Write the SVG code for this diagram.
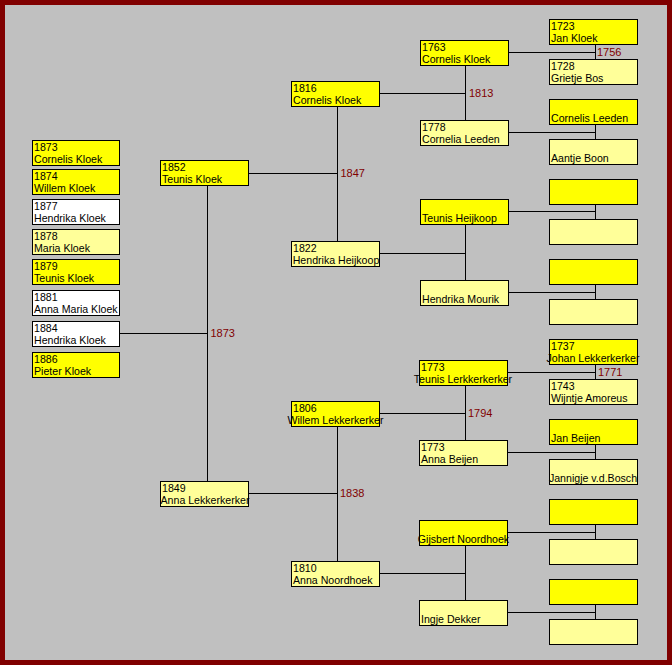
<svg xmlns="http://www.w3.org/2000/svg" width="672" height="665" viewBox="0 0 672 665">
<style>
.b{stroke:#000;stroke-width:1}
.y{fill:#FFFF00}
.p{fill:#FFFF99}
.w{fill:#FFFFFF}
text{font-family:"Liberation Sans",Arial,sans-serif;font-size:10.6px;fill:#000}
.c{text-anchor:middle}
.lbl{fill:#800000;font-size:11px}
.ln{stroke:#000;stroke-width:1;fill:none}
</style>
<rect x="0" y="0" width="672" height="665" fill="#800000"/>
<rect x="5" y="5" width="662" height="655" fill="#C0C0C0"/>

<g id="connectors">
<path class="ln" d="M120 333.5H207.5M207.5 186V481M249 173.5H337.5M249 493.5H337.5M337.5 106V241M337.5 426V561"/>
<path class="ln" d="M379 93.5H465.5M379 253.5H465.5M379 413.5H465.5M379 573.5H465.5M465.5 65V120M465.5 224V280M465.5 385V440M465.5 545V600"/>
<path class="ln" d="M508 52.5H595.5M508 132.5H595.5M508 211.5H595.5M508 292.5H595.5M508 372.5H595.5M508 452.5H595.5M508 532.5H595.5M508 612.5H595.5"/>
<path class="ln" d="M595.5 44V59M595.5 124V139M595.5 204V219M595.5 284V299M595.5 364V379M595.5 444V459M595.5 524V539M595.5 604V619"/>
<text class="lbl" x="210.5" y="337">1873</text>
<text class="lbl" x="340.5" y="177">1847</text>
<text class="lbl" x="340" y="497">1838</text>
<text class="lbl" x="469" y="97">1813</text>
<text class="lbl" x="468" y="417">1794</text>
<text class="lbl" x="597" y="56">1756</text>
<text class="lbl" x="598" y="376">1771</text>
</g>

<g id="child1"><rect class="b y" x="32.5" y="140.5" width="87" height="25"/><text x="34" y="151">1873</text><text x="34" y="163">Cornelis Kloek</text></g>
<g id="child2"><rect class="b y" x="32.5" y="169.5" width="87" height="25"/><text x="34" y="180">1874</text><text x="34" y="192">Willem Kloek</text></g>
<g id="child3"><rect class="b w" x="32.5" y="199.5" width="87" height="25"/><text x="34" y="210">1877</text><text x="34" y="222">Hendrika Kloek</text></g>
<g id="child4"><rect class="b p" x="32.5" y="229.5" width="87" height="25"/><text x="34" y="240">1878</text><text x="34" y="252">Maria Kloek</text></g>
<g id="child5"><rect class="b y" x="32.5" y="259.5" width="87" height="25"/><text x="34" y="270">1879</text><text x="34" y="282">Teunis Kloek</text></g>
<g id="child6"><rect class="b w" x="32.5" y="290.5" width="87" height="25"/><text x="34" y="301">1881</text><text x="34" y="313">Anna Maria Kloek</text></g>
<g id="child7"><rect class="b w" x="32.5" y="321.5" width="87" height="25"/><text x="34" y="332">1884</text><text x="34" y="344">Hendrika Kloek</text></g>
<g id="child8"><rect class="b y" x="32.5" y="352.5" width="87" height="25"/><text x="34" y="363">1886</text><text x="34" y="375">Pieter Kloek</text></g>

<g id="p1"><rect class="b y" x="160.5" y="160.5" width="88" height="25"/><text x="162" y="171">1852</text><text x="162" y="183">Teunis Kloek</text></g>
<g id="p2"><rect class="b p" x="160.5" y="481.5" width="88" height="25"/><text x="162" y="492">1849</text><text class="c" x="205" y="504">Anna Lekkerkerker</text></g>

<g id="g2a"><rect class="b y" x="291.5" y="81.5" width="88" height="25"/><text x="293" y="92">1816</text><text x="293" y="104">Cornelis Kloek</text></g>
<g id="g2b"><rect class="b p" x="291.5" y="241.5" width="88" height="25"/><text x="293" y="252">1822</text><text class="c" x="336" y="264">Hendrika Heijkoop</text></g>
<g id="g2c"><rect class="b y" x="291.5" y="401.5" width="88" height="25"/><text x="293" y="412">1806</text><text class="c" x="335.5" y="424">Willem Lekkerkerker</text></g>
<g id="g2d"><rect class="b p" x="291.5" y="561.5" width="88" height="25"/><text x="293" y="572">1810</text><text x="293" y="584">Anna Noordhoek</text></g>

<g id="g3a"><rect class="b y" x="420.5" y="40.5" width="88" height="25"/><text x="422" y="51">1763</text><text x="422" y="63">Cornelis Kloek</text></g>
<g id="g3b"><rect class="b p" x="420.5" y="120.5" width="88" height="25"/><text x="422" y="131">1778</text><text x="422" y="143">Cornelia Leeden</text></g>
<g id="g3c"><rect class="b y" x="420.5" y="199.5" width="88" height="25"/><text x="422" y="222">Teunis Heijkoop</text></g>
<g id="g3d"><rect class="b p" x="420.5" y="280.5" width="88" height="25"/><text x="422" y="303">Hendrika Mourik</text></g>
<g id="g3e"><rect class="b y" x="419.5" y="360.5" width="88" height="25"/><text x="421" y="371">1773</text><text class="c" x="463" y="383">Teunis Lerkkerkerker</text></g>
<g id="g3f"><rect class="b p" x="419.5" y="440.5" width="88" height="25"/><text x="421" y="451">1773</text><text x="421" y="463">Anna Beijen</text></g>
<g id="g3g"><rect class="b y" x="419.5" y="520.5" width="88" height="25"/><text class="c" x="463.5" y="543">Gijsbert Noordhoek</text></g>
<g id="g3h"><rect class="b p" x="419.5" y="600.5" width="88" height="25"/><text x="421" y="623">Ingje Dekker</text></g>

<g id="g4a"><rect class="b y" x="549.5" y="19.5" width="88" height="25"/><text x="551" y="30">1723</text><text x="551" y="42">Jan Kloek</text></g>
<g id="g4b"><rect class="b p" x="549.5" y="59.5" width="88" height="25"/><text x="551" y="70">1728</text><text x="551" y="82">Grietje Bos</text></g>
<g id="g4c"><rect class="b y" x="549.5" y="99.5" width="88" height="25"/><text x="551" y="122">Cornelis Leeden</text></g>
<g id="g4d"><rect class="b p" x="549.5" y="139.5" width="88" height="25"/><text x="551" y="162">Aantje Boon</text></g>
<g id="g4e"><rect class="b y" x="549.5" y="179.5" width="88" height="25"/></g>
<g id="g4f"><rect class="b p" x="549.5" y="219.5" width="88" height="25"/></g>
<g id="g4g"><rect class="b y" x="549.5" y="259.5" width="88" height="25"/></g>
<g id="g4h"><rect class="b p" x="549.5" y="299.5" width="88" height="25"/></g>
<g id="g4i"><rect class="b y" x="549.5" y="339.5" width="88" height="25"/><text x="551" y="350">1737</text><text class="c" x="593" y="362">Johan Lekkerkerker</text></g>
<g id="g4j"><rect class="b p" x="549.5" y="379.5" width="88" height="25"/><text x="551" y="390">1743</text><text x="551" y="402">Wijntje Amoreus</text></g>
<g id="g4k"><rect class="b y" x="549.5" y="419.5" width="88" height="25"/><text x="551" y="442">Jan Beijen</text></g>
<g id="g4l"><rect class="b p" x="549.5" y="459.5" width="88" height="25"/><text class="c" x="593" y="482">Jannigje v.d.Bosch</text></g>
<g id="g4m"><rect class="b y" x="549.5" y="499.5" width="88" height="25"/></g>
<g id="g4n"><rect class="b p" x="549.5" y="539.5" width="88" height="25"/></g>
<g id="g4o"><rect class="b y" x="549.5" y="579.5" width="88" height="25"/></g>
<g id="g4p"><rect class="b p" x="549.5" y="619.5" width="88" height="25"/></g>
</svg>
